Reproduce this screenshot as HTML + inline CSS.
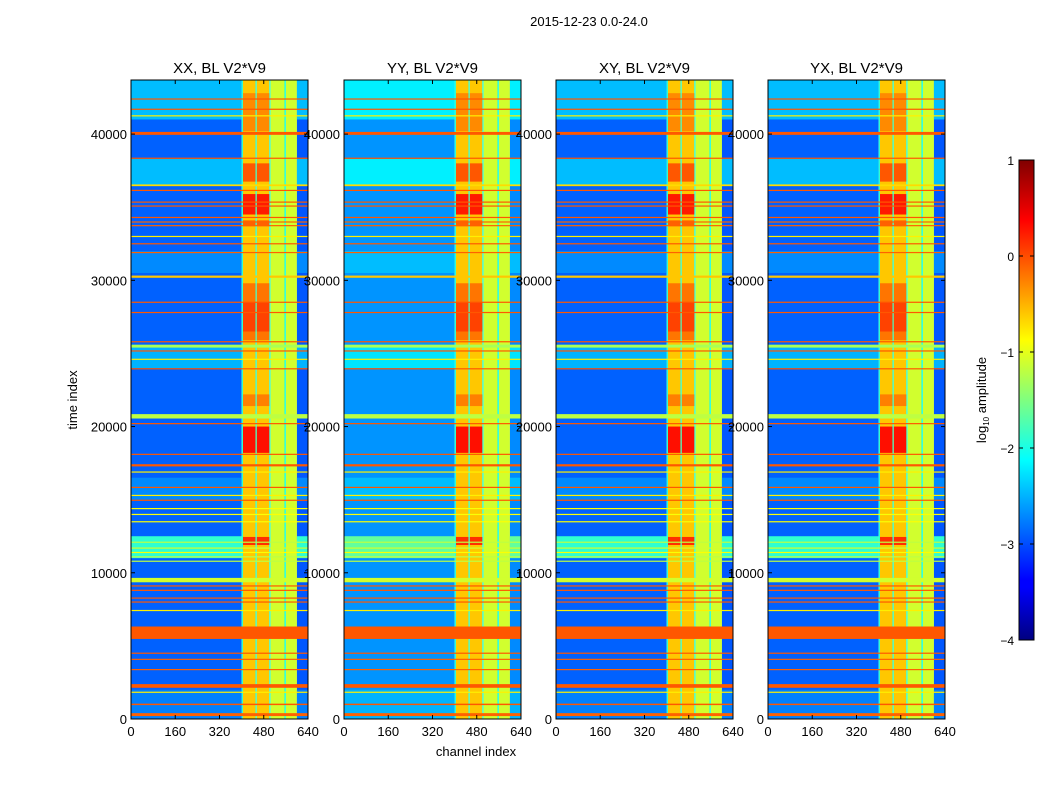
<!DOCTYPE html>
<html><head><meta charset="utf-8"><style>
body{margin:0;background:#fff;font-family:"Liberation Sans",sans-serif}
svg text{font-family:"Liberation Sans",sans-serif;fill:#000}
</style></head><body>
<svg id="fig" width="1050" height="800" xmlns="http://www.w3.org/2000/svg">
<text x="589" y="26" font-size="13" text-anchor="middle">2015-12-23 0.0-24.0</text>
<text transform="translate(77,400) rotate(-90)" font-size="13" text-anchor="middle">time index</text>
<text x="476" y="756" font-size="13" text-anchor="middle">channel index</text>
<g id="panels"></g>
<defs><linearGradient id="jetg" x1="0" y1="1" x2="0" y2="0">
<stop offset="0" stop-color="#000080"/><stop offset="0.11" stop-color="#0000ff"/><stop offset="0.125" stop-color="#0000ff"/><stop offset="0.375" stop-color="#00ffff"/><stop offset="0.625" stop-color="#ffff00"/><stop offset="0.875" stop-color="#ff0000"/><stop offset="1" stop-color="#800000"/></linearGradient></defs>
<g>
<rect x="1019" y="160" width="15" height="480" fill="url(#jetg)" stroke="#000" stroke-width="1"/>
<g id="cbticks"></g>
<text transform="translate(986,400) rotate(-90)" font-size="13" text-anchor="middle">log<tspan font-size="8" dy="3">10</tspan><tspan dy="-3"> amplitude</tspan></text>
</g>
</svg>
<script>
const panelTitles=["XX, BL V2*V9","YY, BL V2*V9","XY, BL V2*V9","YX, BL V2*V9"];
const panelBgOffset=[0,0.25,0,0];
const xTicks=[0,160,320,480,640];
const yTicks=[0,10000,20000,30000,40000];
const cbTicks=[1,0,-1,-2,-3,-4];
const colStart=[0,400,405,450,455,500,505,555,560,600];
const colEnd=[400,405,450,455,500,505,555,560,600,640];
const colVal=[-2.9,-1.9,-0.6,-1.9,-0.6,-1.9,-1.1,-2.1,-1.1,-2.95];
const bgT0=[41000,36500,30500,24000,15000,11000,0];
const bgT1=[43700,38300,32000,25500,16500,12500,2000];
const bgVal=[-2.45,-2.45,-2.7,-2.5,-2.7,-1.9,-2.75];
const blobT0=[40200,36750,34500,33700,25900,21400,18200,11900,26500];
const blobT1=[42800,38000,35900,34100,29800,22200,20000,12450,28500];
const blobVal=[-0.3,-0.05,0.25,-0.1,-0.2,-0.25,0.3,0.15,0.05];
const lineT=[42400,41700,41250,40050,38350,36500,36150,35350,35080,34300,34000,33750,33000,32500,31900,30250,28500,27800,25800,25500,25170,24600,23950,20700,20200,18100,17350,16900,15850,15300,14970,14400,14000,13500,12100,11700,11400,11100,10800,9500,9100,8800,8270,8000,7430,5900,4500,4080,3380,2260,1840,1000,300];
const lineW=[80,80,80,200,80,120,80,80,80,80,60,60,80,80,80,150,80,80,80,200,80,80,80,300,80,80,150,60,60,60,60,60,60,60,60,60,60,60,60,300,80,80,80,80,60,850,80,80,80,250,60,100,200];
const lineVal=[-0.05,-0.05,-0.8,-0.05,-0.05,-0.7,-0.05,-0.05,-0.05,-0.05,-0.1,-0.1,-0.8,-0.05,-0.1,-0.6,-0.05,-0.05,-0.05,-1.3,-0.05,-0.8,-0.05,-1.2,-0.05,-0.05,-0.05,-0.8,-0.05,-0.8,-0.05,-0.9,-0.9,-0.9,-1.2,-1.1,-0.9,-1.2,-1.2,-1.1,-0.05,-0.05,-0.05,-0.05,-0.8,-0.05,-0.05,-0.1,-0.1,-0.05,-0.8,-0.05,-0.1];

const pxL=[131,344,556,768], pw=177, pTop=80, pBot=719, tMax=43700;
function jet(v){let t=(v+4)/5;t=Math.max(0,Math.min(1,t));
 const c=x=>Math.round(255*Math.max(0,Math.min(1,x)));
 return `rgb(${c(1.5-Math.abs(4*t-3))},${c(1.5-Math.abs(4*t-2))},${c(1.5-Math.abs(4*t-1))})`;}
const NS="http://www.w3.org/2000/svg";
function mk(tag,attrs,parent){const e=document.createElementNS(NS,tag);for(const k in attrs)e.setAttribute(k,attrs[k]);parent.appendChild(e);return e;}
const root=document.getElementById('panels');
pxL.forEach((L,p)=>{
 const xs=c=>L+c/640*pw, ys=t=>pBot-t/tMax*(pBot-pTop);
 const g=mk('g',{},root);
 
 
 const hm=mk('g',{},g);
 
 
 const off=panelBgOffset[p];
 colStart.forEach((c0,i)=>{const quiet=colVal[i]<-2.3;
  const r=mk('rect',{x:xs(c0),y:pTop,width:xs(colEnd[i])-xs(c0),height:pBot-pTop,fill:jet(colVal[i]+(quiet?off:0))},hm);
  
  });
 bgT0.forEach((t0,i)=>{[[0,400],[600,640]].forEach(([a,b])=>{
  const r=mk('rect',{x:xs(a),y:ys(bgT1[i]),width:xs(b)-xs(a),height:ys(t0)-ys(bgT1[i]),fill:jet(bgVal[i]+off)},hm);
  
  });});
 blobT0.forEach((t0,i)=>{[[405,450],[455,500]].forEach(([a,b])=>{
  const r=mk('rect',{x:xs(a),y:ys(blobT1[i]),width:xs(b)-xs(a),height:ys(t0)-ys(blobT1[i]),fill:jet(blobVal[i])},hm);
  
  });});
 lineT.forEach((t,i)=>{const h=Math.max(1.2,ys(t-lineW[i]/2)-ys(t+lineW[i]/2));
  const r=mk('rect',{x:L,y:ys(t+lineW[i]/2),width:pw,height:h,fill:jet(lineVal[i])},hm);
  
  });
 mk('rect',{x:L,y:pTop,width:pw,height:pBot-pTop,fill:'none',stroke:'#000','stroke-width':1},g);
 const tt=mk('text',{x:L+pw/2,y:73,'font-size':15,'text-anchor':'middle'},g);tt.textContent=panelTitles[p];
 
 
 xTicks.forEach(v=>{const x=xs(v);mk('line',{x1:x,x2:x,y1:pBot,y2:pBot-4,stroke:'#000'},g);mk('line',{x1:x,x2:x,y1:pTop,y2:pTop+4,stroke:'#000'},g);
  const t=mk('text',{x:x,y:736,'font-size':13,'text-anchor':'middle'},g);t.textContent=v;
  
  });
 yTicks.forEach(v=>{const y=ys(v);mk('line',{x1:L,x2:L+4,y1:y,y2:y,stroke:'#000'},g);mk('line',{x1:L+pw,x2:L+pw-4,y1:y,y2:y,stroke:'#000'},g);
  const t=mk('text',{x:L-4,y:y+5,'font-size':13,'text-anchor':'end'},g);t.textContent=v;
  
  });
});
const cb=document.getElementById('cbticks');
cbTicks.forEach(v=>{const y=640-(v+4)/5*480;
 mk('line',{x1:1019,x2:1023,y1:y,y2:y,stroke:'#000'},cb);mk('line',{x1:1030,x2:1034,y1:y,y2:y,stroke:'#000'},cb);
 const t=mk('text',{x:1014,y:y+5,'font-size':12,'text-anchor':'end'},cb);t.textContent=v<0?'\u2212'+(-v):v;
 
 });
</script>
</body></html>
